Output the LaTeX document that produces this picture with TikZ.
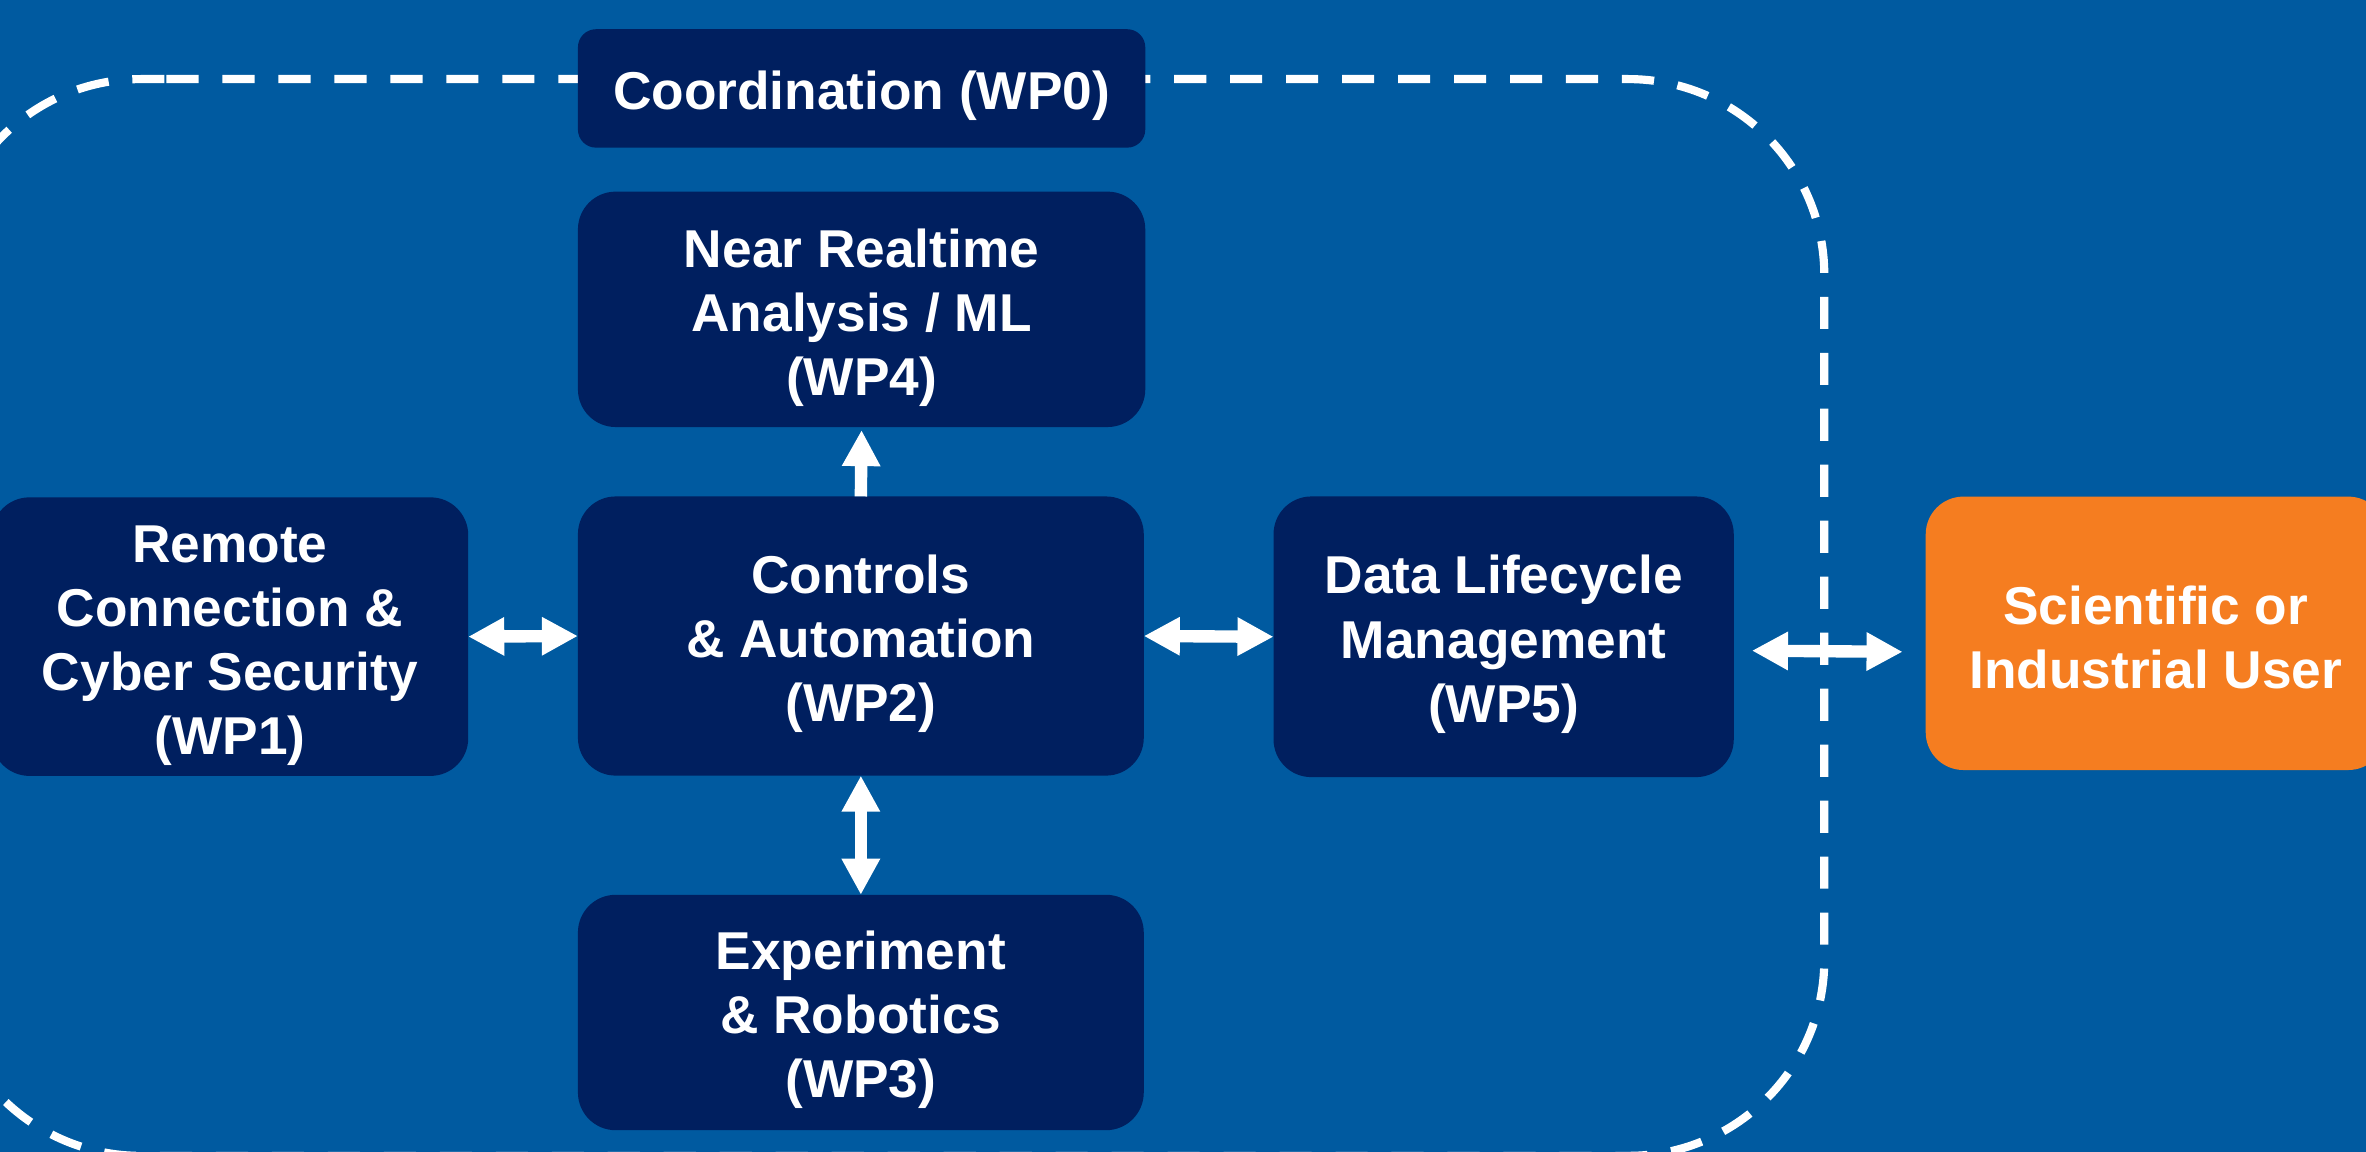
\documentclass[tikz,border=0pt]{standalone}
\usepackage{fontspec}
\setmainfont{Liberation Sans}
\usetikzlibrary{arrows.meta}

\definecolor{bgblue}{RGB}{0,90,160}
\definecolor{navy}{RGB}{0,31,95}
\definecolor{userorange}{RGB}{245,125,32}

\tikzset{
  panel/.style={fill=navy, rounded corners=25pt, inner sep=0pt, outer sep=0pt},
  userpanel/.style={panel, fill=userorange},
  wptext/.style={text=white, inner sep=0pt, align=center,
    font=\bfseries\fontsize{35.3pt}{42.5pt}\selectfont},
  frame/.style={draw=white, line width=5.4pt, dash pattern=on 21.3pt off 15.8pt,
    rounded corners=130pt},
  link/.style={draw=white, line width=8.2pt,
    {Triangle[length=23.9pt,width=23.9pt]}-{Triangle[length=23.9pt,width=23.9pt]}},
  uplink/.style={draw=white, line width=8.2pt, -{Triangle[length=23.9pt,width=23.9pt]}},
}

\begin{document}
\begin{tikzpicture}[x=1pt,y=-1pt]
  % page and background
  \useasboundingbox (0,0) rectangle (1568,763.45);
  \fill[bgblue] (0,0) rectangle (1568,763.45);

  % dashed project boundary
  \draw[frame] (110.3,52.4) -- (1209,52.4) -- (1209,766) -- (-36.7,766)
    -- (-36.7,52.4) -- (110.3,52.4);

  % work package panels
  \node[panel, rounded corners=12pt, minimum width=376pt, minimum height=78.5pt]
    (coord) at (571,58.6) {};
  \node[panel, minimum width=376pt, minimum height=156pt] (nrt) at (571,205) {};
  \node[panel, minimum width=315.8pt, minimum height=184.6pt] (rem) at (152.4,421.9) {};
  \node[panel, minimum width=375pt, minimum height=185pt] (ctrl) at (570.5,421.5) {};
  \node[panel, minimum width=305pt, minimum height=186pt] (dlm) at (996.5,422) {};
  \node[panel, minimum width=375pt, minimum height=156pt] (exp) at (570.5,671) {};
  \node[userpanel, minimum width=305pt, minimum height=181.2pt] (sci) at (1428.7,419.7) {};

  % panel labels
  \node[wptext] (coord-t) at (571,63.7) {Coordination (WP0)};
  \node[wptext] (nrt-t) at (571,210.5) {Near Realtime\\Analysis / ML\\(WP4)};
  \node[wptext] (rem-t) at (152.4,427.8) {Remote\\Connection \&\\Cyber Security\\(WP1)};
  \node[wptext] (ctrl-t) at (570.5,426.5) {Controls\\\& Automation\\(WP2)};
  \node[wptext] (dlm-t) at (996.5,427) {Data Lifecycle\\Management\\(WP5)};
  \node[wptext] (exp-t) at (570.5,676) {Experiment\\\& Robotics\\(WP3)};
  \node[wptext] (sci-t) at (1428.7,422.2) {Scientific or\\Industrial User};

  % connectors
  \draw[link] (rem.east) -- (ctrl.west);
  \draw[link] (ctrl.east) -- (dlm.west);
  \draw[link] (ctrl.south) -- (exp.north);
  \draw[uplink, shorten >=2pt] (ctrl.north) -- (nrt.south);
  \draw[link, shorten <=12pt, shorten >=15.3pt]
    ([yshift=-9.1pt]dlm.east) -- ([yshift=-12.4pt]sci.west);
\end{tikzpicture}
\end{document}
